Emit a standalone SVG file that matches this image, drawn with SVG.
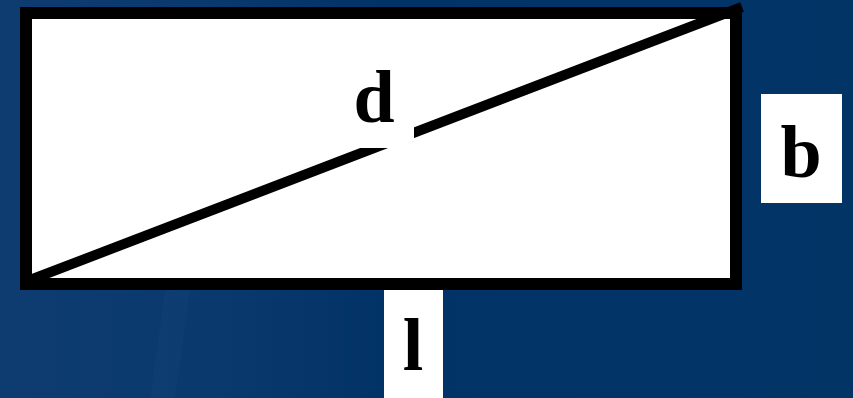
<svg xmlns="http://www.w3.org/2000/svg" width="853" height="398" viewBox="0 0 853 398">
  <defs>
    <linearGradient id="bg" x1="0" y1="0" x2="1" y2="0">
      <stop offset="0" stop-color="#0e3c70"/>
      <stop offset="0.25" stop-color="#0a396d"/>
      <stop offset="0.45" stop-color="#023366"/>
      <stop offset="1" stop-color="#023466"/>
    </linearGradient>
  </defs>
  <style>
    .lbl { font-family: "Liberation Serif", "Times New Roman", serif; font-weight: bold; font-size: 74px; fill: #000; text-anchor: middle; }
    .box { fill: #fff; }
  </style>
  <rect width="853" height="398" fill="url(#bg)"/>
  <polygon points="150,398 165,290 190,290 175,398" fill="#103f73" opacity="0.5"/>
  <g id="rectangle">
    <rect x="26" y="13" width="710" height="271" fill="#fff" stroke="#000" stroke-width="12"/>
  </g>
  <g id="connectors">
    <line x1="30" y1="280" x2="742" y2="7" stroke="#000" stroke-width="10"/>
  </g>
  <g id="label-d">
    <rect class="box" x="345" y="70" width="69" height="78"/>
    <text class="lbl" x="374" y="122">d</text>
  </g>
  <g id="label-b">
    <rect class="box" x="761" y="94" width="81" height="109"/>
    <text class="lbl" x="801" y="177">b</text>
  </g>
  <g id="label-l">
    <rect class="box" x="384" y="290" width="59" height="108"/>
    <text class="lbl" x="413" y="370">l</text>
  </g>
</svg>
